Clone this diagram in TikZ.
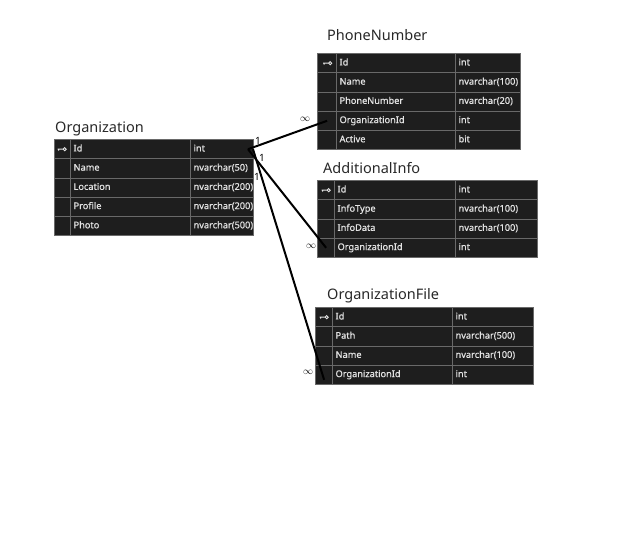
\documentclass[tikz,border=0pt]{standalone}
\usepackage{fontspec}
\setmainfont{Noto Sans}
\newfontfamily\cellfamily{Noto Sans}[FakeBold=0.7]
\usepackage{tikz}
\usetikzlibrary{matrix, positioning, calc}
\definecolor{cellfill}{RGB}{30,30,30}
\definecolor{cellline}{RGB}{105,105,105}
\definecolor{celltext}{RGB}{228,228,228}
\definecolor{titletext}{RGB}{40,40,40}
\newcommand{\cellfont}{\cellfamily\fontsize{9.2}{11}\selectfont}
\newcommand{\titlefont}{\fontsize{14.5}{17}\selectfont}
\tikzset{dbcell/.style = {draw=cellline, line width=.8pt, fill=cellfill, text=celltext, font=\cellfont, inner xsep=3pt, inner ysep=2pt, minimum height=19.2pt, text height=7pt, text depth=2.5pt, align=left}, dbtable/.style = {matrix of nodes, nodes in empty cells, inner sep=0pt, column sep=-.8pt, row sep=-.8pt, anchor=north west, nodes={dbcell}}, dbtitle/.style = {anchor=base west, font=\titlefont, text=titletext, inner sep=0pt}, keyshape/.style = {celltext, line width=.9pt}, relation/.style = {line width=2pt, black}, cardinality/.style = {inner sep=0pt, font=\fontsize{10}{10}\selectfont}}

\begin{document}
\begin{tikzpicture}[x=1pt, y=-1pt]

				\path [use as bounding box, fill=white] (0,0) rectangle (624,534);

				\node [dbtitle] (orgtitle) at (55,133) {Organization};
				\matrix (org) [dbtable, column 1/.style={nodes={text width=10pt}}, column 2/.style={nodes={text width=114pt}}, column 3/.style={nodes={text width=57pt}}] at (54,139) {
					& Id & int \\
					& Name & nvarchar(50) \\
					& Location & nvarchar(200) \\
					& Profile & nvarchar(200) \\
					& Photo & nvarchar(500) \\
				};

				\node [dbtitle] (phonetitle) at (327,41) {PhoneNumber};
				\matrix (phone) [dbtable, column 1/.style={nodes={text width=13pt}}, column 2/.style={nodes={text width=113pt}}, column 3/.style={nodes={text width=59pt}}] at (317,53) {
					& Id & int \\
					& Name & nvarchar(100) \\
					& PhoneNumber & nvarchar(20) \\
					& OrganizationId & int \\
					& Active & bit \\
				};

				\node [dbtitle] (infotitle) at (323,174) {AdditionalInfo};
				\matrix (info) [dbtable, column 1/.style={nodes={text width=11pt}}, column 2/.style={nodes={text width=115pt}}, column 3/.style={nodes={text width=76pt}}] at (317,180) {
					& Id & int \\
					& InfoType & nvarchar(100) \\
					& InfoData & nvarchar(100) \\
					& OrganizationId & int \\
				};

				\node [dbtitle] (filetitle) at (327,300) {OrganizationFile};
				\matrix (orgfile) [dbtable, column 1/.style={nodes={text width=11pt}}, column 2/.style={nodes={text width=114pt}}, column 3/.style={nodes={text width=75pt}}] at (315,307) {
					& Id & int \\
					& Path & nvarchar(500) \\
					& Name & nvarchar(100) \\
					& OrganizationId & int \\
				};

				%keys
				\draw [keyshape] ([xshift=-5pt]org-1-1.center) -- ++(5.5,0) ++(1.6,0) circle [radius=1.6] ([xshift=-4pt]org-1-1.center) -- ++(0,1.5);
				\draw [keyshape] ([xshift=-4pt]phone-1-1.center) -- ++(5.5,0) ++(1.6,0) circle [radius=1.6] ([xshift=-3pt]phone-1-1.center) -- ++(0,1.5);
				\draw [keyshape] ([xshift=-4.5pt]info-1-1.center) -- ++(5.5,0) ++(1.6,0) circle [radius=1.6] ([xshift=-3.5pt]info-1-1.center) -- ++(0,1.5);
				\draw [keyshape] ([xshift=-4.5pt]orgfile-1-1.center) -- ++(5.5,0) ++(1.6,0) circle [radius=1.6] ([xshift=-3.5pt]orgfile-1-1.center) -- ++(0,1.5);

				%relations
				\coordinate (orgpk) at ([xshift=-6pt]org-1-3.east);
				\coordinate (orgpk2) at ([xshift=-1pt]org-1-3.east);
				\draw [relation] (orgpk) -- (phone-4-1.center);
				\draw [relation] (orgpk) -- (info-4-1.center);
				\draw [relation] (orgpk2) -- ([yshift=-5pt]orgfile-4-1.center);

				\node [cardinality] (onephone) at (258,141) {1};
				\node [cardinality] (oneinfo) at (262,158) {1};
				\node [cardinality] (onefile) at (257,177) {1};
				\node [cardinality] (manyphone) at (305,119) {$\infty$};
				\node [cardinality] (manyinfo) at (311,246) {$\infty$};
				\node [cardinality] (manyfile) at (308,372) {$\infty$};

\end{tikzpicture}
\end{document}
